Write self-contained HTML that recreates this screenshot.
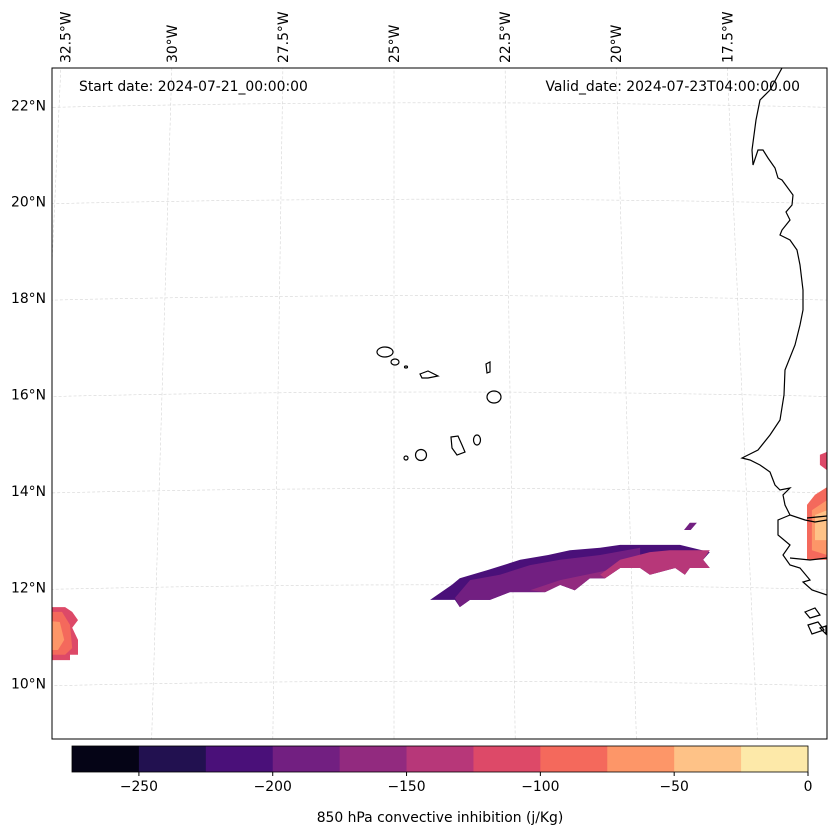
<!DOCTYPE html>
<html><head><meta charset="utf-8"><style>
body{margin:0;background:#fff;font-family:"DejaVu Sans","Liberation Sans",sans-serif}
svg{display:block}
text{font-family:"DejaVu Sans","Liberation Sans",sans-serif;fill:#000}
</style></head><body>
<svg id="chart" width="837" height="836" viewBox="0 0 837 836">
<defs><clipPath id="mapclip"><rect x="52" y="68" width="775" height="671"/></clipPath></defs>
<g id="grid" clip-path="url(#mapclip)"></g>
<g id="fills" clip-path="url(#mapclip)"></g>
<g id="coast" clip-path="url(#mapclip)" fill="none" stroke="#000" stroke-width="1.2">
<path d="M782,68 L770,90 L760,100 L756,120 L752,150 L753,165 L758,150 L763,150 L768,158 L775,168 L778,178 L782,180 L793,195 L792,205 L786,212 L790,220 L782,230 L780,235 L790,240 L797,250 L800,265 L803,290 L803,310 L800,325 L795,345 L785,370 L784,395 L780,420 L770,435 L758,450 L742,458 L750,460 L760,465 L770,472 L775,485 L780,490 L790,488 L783,495 L785,505 L790,515 L805,520 L815,522 L827,520"/>
<path d="M790,515 L778,520 L778,535 L790,545 L783,555 L790,565 L800,568 L810,580 L803,582 L812,590 L827,595"/>
<path d="M807,518 L827,516 M790,558 L810,560 L827,558"/>
<path d="M805,612 L815,608 L820,615 L810,618 Z M808,625 L818,622 L824,630 L812,634 Z M820,628 L826,626 L826,634 Z"/>
<ellipse cx="385" cy="352" rx="8" ry="5"/><ellipse cx="395" cy="362" rx="4" ry="3"/><ellipse cx="406" cy="367" rx="1.5" ry="1"/>
<path d="M420,374 L428,371 L438,376 L428,378 L422,378 Z"/><path d="M486,364 L490,362 L490,372 L487,373 Z"/>
<ellipse cx="494" cy="397" rx="7" ry="6"/><path d="M451,437 L458,436 L462,445 L465,452 L457,455 L452,448 Z"/>
<ellipse cx="477" cy="440" rx="3.5" ry="5"/><ellipse cx="421" cy="455" rx="5.5" ry="5.5"/><ellipse cx="406" cy="458" rx="2" ry="2"/>
</g>
<rect x="52" y="68" width="775" height="671" fill="none" stroke="#000" stroke-width="1"/>
<text x="79" y="91" font-size="13.9">Start date: 2024-07-21_00:00:00</text>
<text x="800" y="91" font-size="13.9" text-anchor="end">Valid_date: 2024-07-23T04:00:00.00</text>
<g id="lonlabels"></g>
<g id="latlabels"></g>
<g id="cbar"></g>
<text x="440" y="822" font-size="13.9" text-anchor="middle">850 hPa convective inhibition (j/Kg)</text>
</svg>
<script>
const levels=[-275,-250,-225,-200,-175,-150,-125,-100,-75,-50,-25,0];
const levelColors=["#050416","#221150","#4a1079","#721f81","#922a7f","#b73779","#dd4968","#f4695c","#fd9668","#fec287","#fde9a9"];
const cbarTicks=[-250,-200,-150,-100,-50,0];
const latTicks=[10,12,14,16,18,20,22];
const lonTicks=[-32.5,-30,-27.5,-25,-22.5,-20,-17.5];
const lonLabelText=["32.5°W","30°W","27.5°W","25°W","22.5°W","20°W","17.5°W"];
const patchValues=[-200,-175,-150,-125,-175,-100,-75,-50,-25,-100,-75,-50];
const patchLons=[
[-24.21,-23.72,-23.54,-22.91,-22.18,-21.55,-21.06,-20.38,-19.93,-18.58,-17.91,-18.06,-17.91,-18.36,-18.47,-18.69,-19.26,-19.48,-19.93,-20.27,-20.61,-20.95,-21.28,-21.62,-22.41,-22.86,-23.31,-23.54,-23.65],
[-23.65,-23.31,-22.64,-21.96,-21.28,-20.38,-19.48,-19.48,-19.93,-20.27,-20.61,-20.95,-21.28,-21.62,-22.41,-22.86,-23.31,-23.54],
[-21.96,-21.28,-20.38,-19.71,-18.58,-18.36,-19.48,-19.93,-20.27,-20.61,-20.95,-21.28,-21.62],
[-20.38,-19.93,-19.26,-18.81,-17.91,-18.06,-17.91,-18.36,-18.47,-18.69,-19.26,-19.48,-19.93,-20.27],
[-18.49,-18.36,-18.2,-18.34],
[-15.43,-15.27,-15.27,-15.43],
[-15.72,-15.54,-15.27,-15.27,-15.72],
[-15.61,-15.27,-15.27,-15.61],
[-15.54,-15.27,-15.27,-15.54],
[-33,-32.43,-32.27,-32.14,-32.27,-32.14,-32.14,-32.32,-32.32,-33],
[-33,-32.5,-32.32,-32.27,-32.43,-33],
[-33,-32.55,-32.45,-32.59,-33]
];
const patchLats=[
[11.75,12.06,12.20,12.37,12.58,12.68,12.78,12.83,12.89,12.89,12.74,12.58,12.41,12.41,12.27,12.41,12.27,12.41,12.41,12.20,12.20,11.95,12.06,11.91,11.91,11.75,11.75,11.60,11.75],
[11.79,12.16,12.27,12.47,12.58,12.68,12.83,12.41,12.41,12.20,12.20,11.95,12.06,11.91,11.91,11.75,11.75,11.60],
[11.95,12.16,12.33,12.47,12.62,12.47,12.41,12.41,12.20,12.20,11.95,12.06,11.91],
[12.27,12.58,12.74,12.78,12.78,12.58,12.41,12.41,12.27,12.41,12.27,12.41,12.41,12.20],
[13.2,13.35,13.35,13.2],
[14.76,14.82,14.44,14.55],
[13.72,13.93,14.09,12.58,12.58],
[13.61,13.82,12.68,12.78],
[13.51,13.61,12.99,12.99],
[11.60,11.60,11.50,11.33,11.17,10.92,10.61,10.61,10.50,10.50],
[11.50,11.50,11.23,10.75,10.61,10.61],
[11.33,11.29,10.92,10.71,10.71]
];
const NS="http://www.w3.org/2000/svg";
function xOf(lon){return 395+(lon+25)*44.4;}
function yOf(lat){return 395-(lat-16)*48.2;}
function gx(lon,lat){return 394+(lon+25)*(46.4-(lat-16)*0.29);}
function gy(lon,lat){const x=gx(lon,lat);return 395-(lat-16)*48.2+0.00003*(x-440)*(x-440)-3;}
function colorFor(v){for(let i=0;i<levels.length-1;i++){if(v<=levels[i+1])return levelColors[i];}return levelColors[levelColors.length-1];}
const grid=document.getElementById('grid');
latTicks.concat([8]).forEach(lat=>{let d='';for(let lon=-36;lon<=-13;lon+=0.5){d+=(d?'L':'M')+gx(lon,lat).toFixed(1)+','+gy(lon,lat).toFixed(1);}
const p=document.createElementNS(NS,'path');p.setAttribute('d',d);p.setAttribute('stroke','#d4d4d4');p.setAttribute('stroke-dasharray','3,2');p.setAttribute('stroke-width','0.6');p.setAttribute('fill','none');


grid.appendChild(p);});
lonTicks.concat([-15]).forEach(lon=>{const l=document.createElementNS(NS,'line');l.setAttribute('x1',gx(lon,23.5));l.setAttribute('y1',gy(lon,23.5));l.setAttribute('x2',gx(lon,8));l.setAttribute('y2',gy(lon,8));l.setAttribute('stroke','#d4d4d4');l.setAttribute('stroke-dasharray','3,2');l.setAttribute('stroke-width','0.6');


grid.appendChild(l);});
const fills=document.getElementById('fills');
patchValues.forEach((v,i)=>{const pts=patchLons[i].map((lon,j)=>xOf(lon).toFixed(1)+','+yOf(patchLats[i][j]).toFixed(1)).join(' ');
const p=document.createElementNS(NS,'polygon');p.setAttribute('points',pts);p.setAttribute('fill',colorFor(v-1));


fills.appendChild(p);});
const lonG=document.getElementById('lonlabels');
lonTicks.forEach((lon,i)=>{const x=gx(lon,22.75)+5+(i===0?5:0);const t=document.createElementNS(NS,'text');t.setAttribute('transform','translate('+x.toFixed(1)+',63) rotate(-90)');t.setAttribute('font-size','13.9');t.textContent=lonLabelText[i];


lonG.appendChild(t);});
const latG=document.getElementById('latlabels');
latTicks.forEach(lat=>{const t=document.createElementNS(NS,'text');t.setAttribute('x','46');t.setAttribute('y',(yOf(lat)+4.5).toFixed(1));t.setAttribute('font-size','13.9');t.setAttribute('text-anchor','end');t.textContent=lat+'°N';


latG.appendChild(t);});
const cb=document.getElementById('cbar');
const cbX0=72,cbX1=808,cbY=746,cbH=26;
function cbx(v){return cbX0+(v-levels[0])/(levels[levels.length-1]-levels[0])*(cbX1-cbX0);}
levelColors.forEach((c,i)=>{const r=document.createElementNS(NS,'rect');r.setAttribute('x',cbx(levels[i]));r.setAttribute('y',cbY);r.setAttribute('width',cbx(levels[i+1])-cbx(levels[i])+0.5);r.setAttribute('height',cbH);r.setAttribute('fill',c);


cb.appendChild(r);});
const fr=document.createElementNS(NS,'rect');fr.setAttribute('x',cbX0);fr.setAttribute('y',cbY);fr.setAttribute('width',cbX1-cbX0);fr.setAttribute('height',cbH);fr.setAttribute('fill','none');fr.setAttribute('stroke','#000');fr.setAttribute('stroke-width','0.8');


cb.appendChild(fr);
cbarTicks.forEach(v=>{const x=cbx(v);const l=document.createElementNS(NS,'line');l.setAttribute('x1',x);l.setAttribute('x2',x);l.setAttribute('y1',cbY+cbH);l.setAttribute('y2',cbY+cbH+4);l.setAttribute('stroke','#000');


cb.appendChild(l);
const t=document.createElementNS(NS,'text');t.setAttribute('x',x);t.setAttribute('y',cbY+cbH+19);t.setAttribute('font-size','13.9');t.setAttribute('text-anchor','middle');t.textContent=(v<0?'\u2212'+(-v):v);


cb.appendChild(t);});
</script>
</body></html>
